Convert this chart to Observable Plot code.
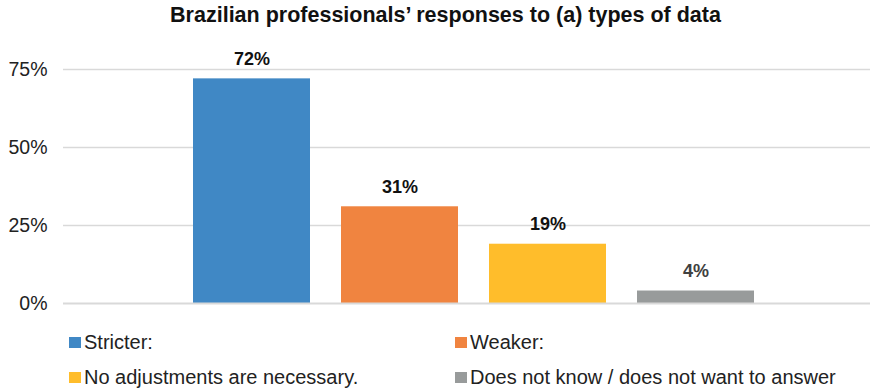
<!DOCTYPE html>
<html>
<head>
<meta charset="utf-8">
<script src="https://cdn.jsdelivr.net/npm/d3@7"></script>
<script src="https://cdn.jsdelivr.net/npm/@observablehq/plot@0.6"></script>
<style>
  html, body { margin: 0; padding: 0; background: #fff; }
  body { width: 877px; height: 389px; position: relative; font-family: "Liberation Sans", Arial, sans-serif; overflow: hidden; }
  #title { position: absolute; left: 14px; top: 3px; width: 863px; text-align: center; font-weight: bold; font-size: 21.5px; color: #111; }
  #chart { position: absolute; left: 0; top: 30px; }
  .leg { position: absolute; font-size: 20px; color: #222; display: flex; align-items: center; white-space: nowrap; }
  .sw { width: 12px; height: 11px; margin-right: 3px; display: inline-block; }
</style>
</head>
<body>
<div id="title">Brazilian professionals’ responses to (a) types of data</div>
<div id="chart"></div>
<div id="legend"></div>
<script>
const categories = ["Stricter:", "Weaker:", "No adjustments are necessary.", "Does not know / does not want to answer"];
const values = [72, 31, 19, 4];
const colors = ["#4088c5", "#f08440", "#ffbd2b", "#989b9b"];
const labelColors = ["#111", "#111", "#111", "#404040"];
const yTicks = [0, 25, 50, 75];

const data = categories.map((c, i) => ({cat: c, value: values[i], color: colors[i], lc: labelColors[i]}));

const plot = Plot.plot({
  width: 877,
  height: 285,
  marginLeft: 63,
  marginRight: 7,
  marginTop: 39,
  marginBottom: 12,
  style: {fontFamily: "Liberation Sans, Arial, sans-serif", fontSize: "19.5px", color: "#222"},
  x: {domain: categories, range: [192, 754], paddingInner: 0.21, paddingOuter: 0, axis: null},
  y: {domain: [0, 75], ticks: yTicks, tickFormat: d => d + "%", tickSize: 0, tickPadding: 16, label: null},
  marks: [
    Plot.ruleY(yTicks.filter(d => d > 0), {stroke: "#d9d9d9", strokeWidth: 1.3}),
    Plot.barY(data, {x: "cat", y: "value", fill: "color"}),
    Plot.ruleY([0], {stroke: "#d9d9d9", strokeWidth: 2}),
    Plot.text(data, {x: "cat", y: "value", text: d => d.value + "%", dy: -20, fill: "lc", fontWeight: "bold", fontSize: 18})
  ]
});
document.getElementById("chart").appendChild(plot);

const legendPos = [[69, 342.5], [455, 342.5], [69, 377.5], [455, 377.5]];
const legend = document.getElementById("legend");
categories.forEach((c, i) => {
  const el = document.createElement("div");
  el.className = "leg";
  el.style.left = legendPos[i][0] + "px";
  el.style.top = (legendPos[i][1] - 12) + "px";
  el.style.height = "24px";
  const sw = document.createElement("span");
  sw.className = "sw";
  sw.style.background = colors[i];
  el.appendChild(sw);
  el.appendChild(document.createTextNode(c));
  legend.appendChild(el);
});
</script>
</body>
</html>
